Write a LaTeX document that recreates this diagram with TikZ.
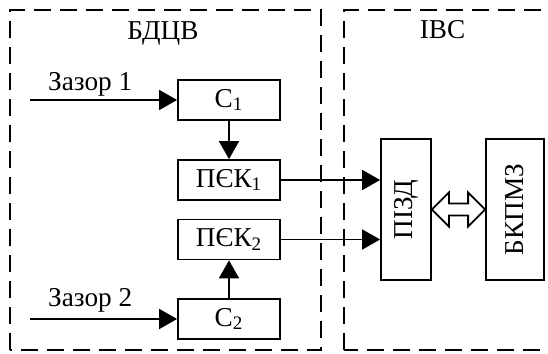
\documentclass[tikz,border=0pt]{standalone}
\usepackage{fontspec}
\setmainfont{Liberation Serif}
\usetikzlibrary{arrows.meta,calc}

\begin{document}
\begin{tikzpicture}[>={Triangle[length=3.6mm,width=4mm]},font=\fontsize{15.5}{18}\selectfont,
  blk/.style={draw,line width=1pt,minimum width=2.04cm,minimum height=0.8cm,inner sep=0pt},
  vblk/.style={draw,line width=1pt,minimum height=2.82cm,inner sep=0pt},
  frame/.style={line width=1.3pt,dash pattern=on 0.34cm off 0.18cm}]
\useasboundingbox (0,0) rectangle (10.96,7.08);
\draw[frame] (0.2,0.08) rectangle (6.42,6.88);
\draw[frame] (6.88,0.08) rectangle (11.4,6.88);
\node[anchor=base] (bdcv) at (3.26,6.28) {БДЦВ};
\node[anchor=base] (ivs) at (8.85,6.30) {ІВС};
\node[blk] (c1) at (4.58,5.08) {С\textsubscript{1}};
\node[blk] (pek1) at (4.58,3.48) {ПЄК\textsubscript{1}};
\node[blk] (pek2) at (4.58,2.29) {ПЄК\textsubscript{2}};
\node[blk] (c2) at (4.58,0.70) {С\textsubscript{2}};
\node[vblk,minimum width=1cm] (pizd) at (8.12,2.89) {\rotatebox{90}{ПІЗД}};
\node[vblk,minimum width=1.16cm] (bkpmz) at (10.30,2.89) {\rotatebox{90}{БКПМЗ}};
\coordinate (in1) at (0.6,5.08);
\coordinate (in2) at (0.6,0.70);
\node[anchor=base west] (gap1) at (0.84,5.26) {Зазор 1};
\node[anchor=base west] (gap2) at (0.84,0.94) {Зазор 2};
\draw[->,line width=1pt] (in1) -- (c1);
\draw[->,line width=1pt] (in2) -- (c2);
\draw[->,line width=1pt] (c1) -- (pek1);
\draw[->,line width=1pt] (c2) -- (pek2);
\draw[->,line width=1pt] (pek1) -- (pek1 -| pizd.west);
\draw[->,line width=1pt] (pek2) -- (pek2 -| pizd.west);
\draw[line width=1pt] (pizd.east) -- ++(0.34,0.34) -- ++(0,-0.22)
  -- ($(bkpmz.west)+(-0.34,0.12)$) -- ++(0,0.22) -- (bkpmz.west)
  -- ++(-0.34,-0.34) -- ++(0,0.22) -- ($(pizd.east)+(0.34,-0.12)$)
  -- ++(0,-0.22) -- cycle;
\end{tikzpicture}
\end{document}
